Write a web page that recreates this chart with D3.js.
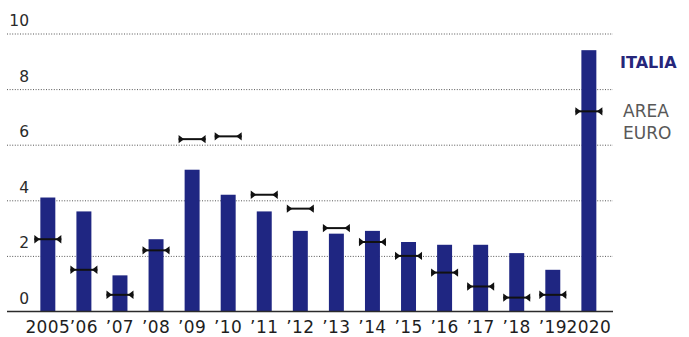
<!DOCTYPE html>
<html>
<head>
<meta charset="utf-8">
<script src="https://cdn.jsdelivr.net/npm/d3@7/dist/d3.min.js"></script>
<style>
  html, body { margin: 0; padding: 0; background: #fff; }
  svg { display: block; }
  text { font-family: "DejaVu Sans", sans-serif; }
</style>
</head>
<body>
<svg id="chart" width="689" height="337"></svg>
<script>
// Deficit / GDP (%), Italy vs euro area
const years = ["2005", "2006", "2007", "2008", "2009", "2010", "2011", "2012",
               "2013", "2014", "2015", "2016", "2017", "2018", "2019", "2020"];
const italia = [4.1, 3.6, 1.3, 2.6, 5.1, 4.2, 3.6, 2.9, 2.8, 2.9, 2.5, 2.4, 2.4, 2.1, 1.5, 9.4];
const areaEuro = [2.6, 1.5, 0.6, 2.2, 6.2, 6.3, 4.2, 3.7, 3.0, 2.5, 2.0, 1.4, 0.9, 0.5, 0.6, 7.2];
const yTicks = [0, 2, 4, 6, 8, 10];
const xLabels = ["2005", "’06", "’07", "’08", "’09", "’10", "’11", "’12",
                 "’13", "’14", "’15", "’16", "’17", "’18", "’19", "2020"];

const svg = d3.select("#chart");
const gridLeft = 7, gridRight = 613;

const x = d3.scaleBand()
  .domain(years)
  .range([29.8, 606.9])
  .paddingInner(0.585)
  .paddingOuter(0.2925);

const y = d3.scaleLinear().domain([0, 10]).range([311.5, 33.5]);

// Dotted gridlines with labels sitting above each line
const yAxis = svg.append("g")
  .attr("transform", `translate(${gridLeft},0)`)
  .call(d3.axisRight(y).tickValues(yTicks).tickSize(gridRight - gridLeft).tickFormat(d3.format("d")));
yAxis.select(".domain").remove();
yAxis.selectAll(".tick line")
  .attr("stroke", "#444")
  .attr("stroke-width", 1)
  .attr("stroke-dasharray", "1,1.6")
  .attr("opacity", d => d === 0 ? 0 : 0.9);
yAxis.selectAll(".tick text")
  .attr("x", 22)
  .attr("y", -8)
  .attr("dy", null)
  .attr("text-anchor", "end")
  .attr("fill", "#2a2a2a")
  .style("font-size", "15.5px")
  .style("font-family", "DejaVu Sans, sans-serif");

// Bars: Italy
svg.append("g").selectAll("rect")
  .data(years)
  .join("rect")
  .attr("x", d => x(d))
  .attr("width", x.bandwidth())
  .attr("y", (d, i) => y(italia[i]))
  .attr("height", (d, i) => y(0) - y(italia[i]))
  .attr("fill", "#1f2682");

// Baseline
svg.append("line")
  .attr("x1", gridLeft).attr("x2", gridRight)
  .attr("y1", y(0)).attr("y2", y(0))
  .attr("stroke", "#2b2b2b")
  .attr("stroke-width", 1.6);

// Euro-area markers: bar with inward-pointing end triangles
const half = 13.5, tw = 5.5, th = 4.2;
const markers = svg.append("g").selectAll("g")
  .data(years)
  .join("g")
  .attr("transform", (d, i) => `translate(${x(d) + x.bandwidth() / 2},${y(areaEuro[i])})`);
markers.append("line")
  .attr("x1", -half).attr("x2", half)
  .attr("stroke", "#111").attr("stroke-width", 2);
markers.append("path")
  .attr("d", `M${-half},${-th}L${-half + tw},0L${-half},${th}Z M${half},${-th}L${half - tw},0L${half},${th}Z`)
  .attr("fill", "#111");

// Year labels
const xAxis = svg.append("g")
  .attr("transform", `translate(0,${y(0)})`)
  .call(d3.axisBottom(x).tickSize(0).tickFormat((d, i) => xLabels[i]));
xAxis.select(".domain").remove();
xAxis.selectAll(".tick text")
  .attr("y", 21.3)
  .attr("dy", null)
  .attr("fill", "#1e1e1e")
  .style("font-size", "17px")
  .style("letter-spacing", "0.4px")
  .style("font-family", "DejaVu Sans, sans-serif");

// Legend
svg.append("text")
  .attr("x", 620).attr("y", 68.3)
  .attr("fill", "#26267a")
  .style("font-size", "16px")
  .style("font-weight", "bold")
  .text("ITALIA");
const legEuro = svg.append("text")
  .attr("x", 623).attr("y", 117.3)
  .attr("fill", "#585858")
  .style("font-size", "17px");
legEuro.append("tspan").attr("x", 623).text("AREA");
legEuro.append("tspan").attr("x", 623).attr("dy", 22).text("EURO");
</script>
</body>
</html>
